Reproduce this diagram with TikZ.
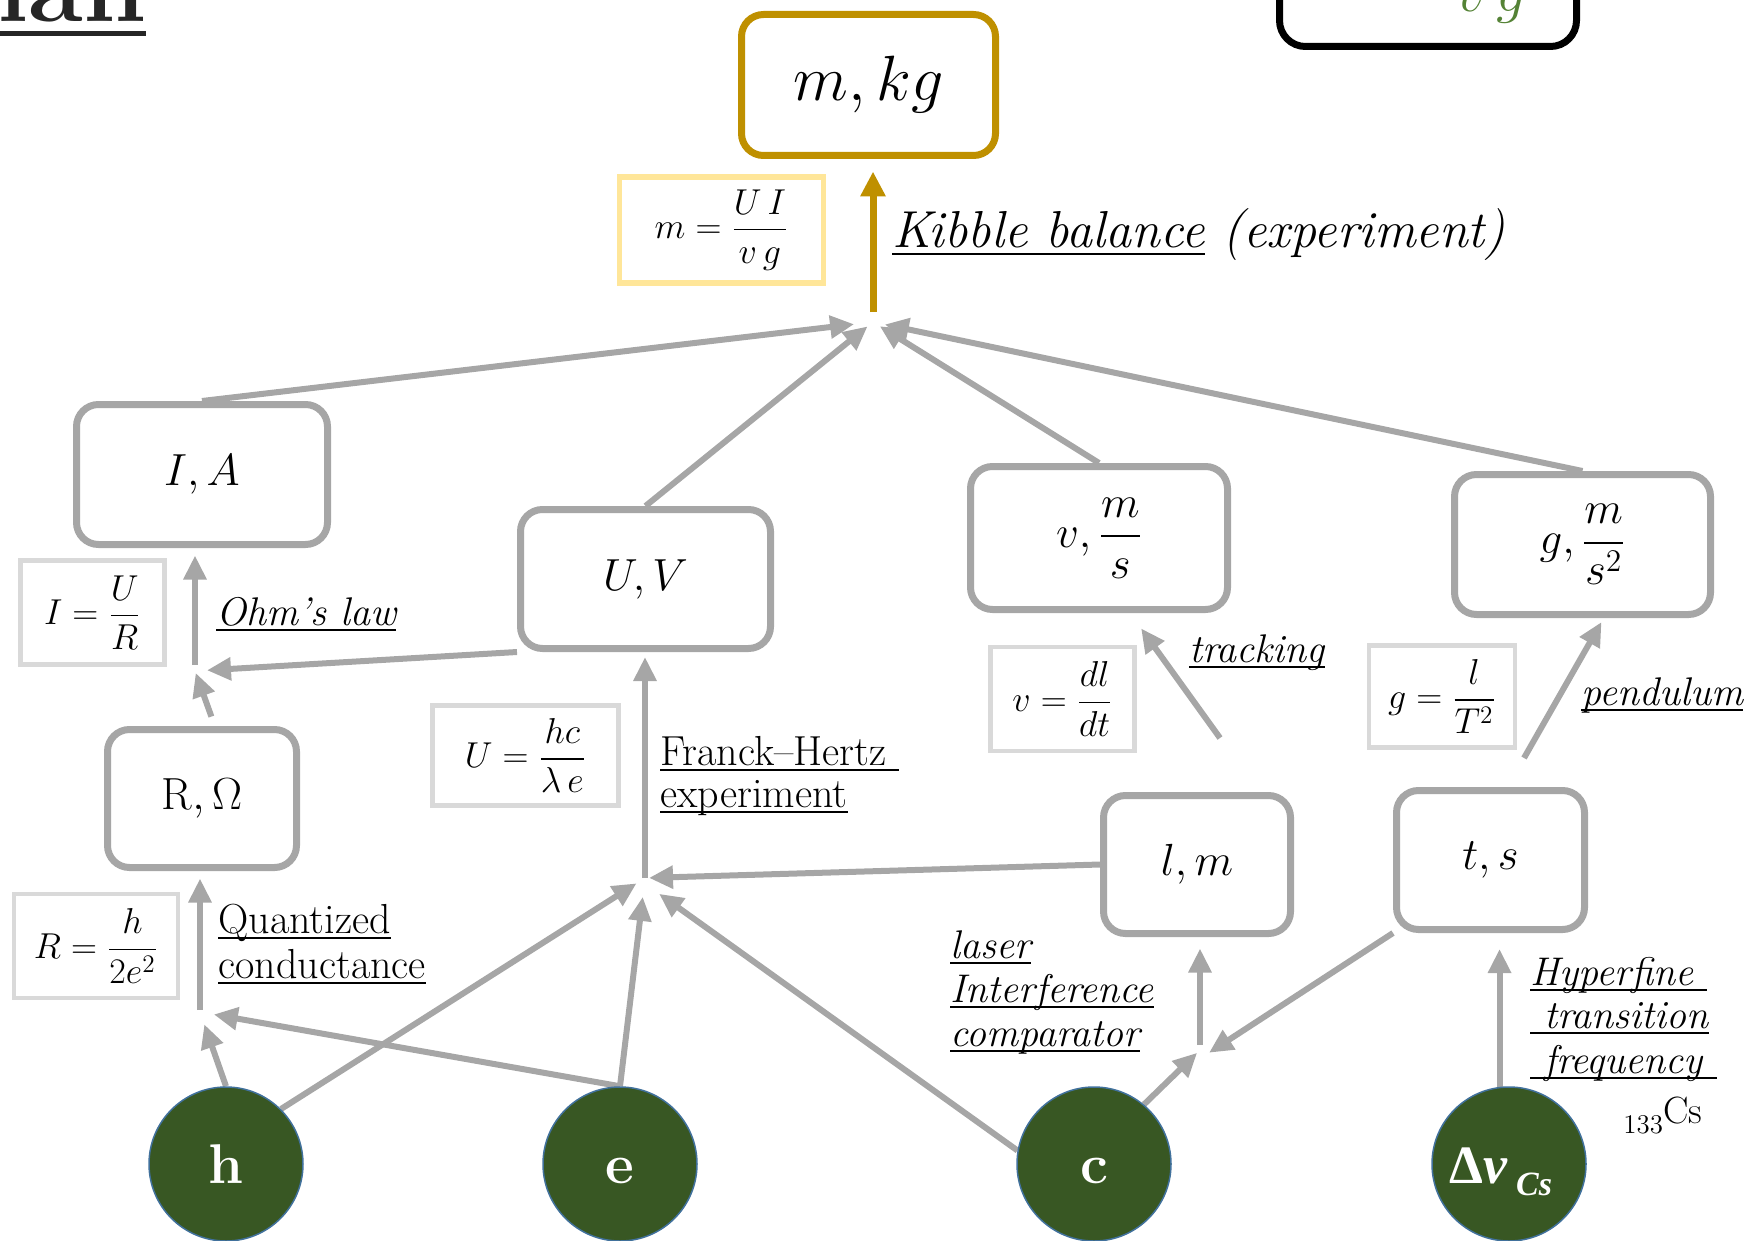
\RequirePackage{fix-cm}
\documentclass[tikz,border=0pt]{standalone}
\usepackage{amsmath}
\usepackage{fontspec}
\newfontfamily\libserif{Liberation Serif}
\usetikzlibrary{arrows.meta,calc}

\definecolor{linegray}{HTML}{A6A6A6}
\definecolor{framegray}{HTML}{D9D9D9}
\definecolor{kgold}{HTML}{BF9000}
\definecolor{palegold}{HTML}{FFE699}
\definecolor{constgreen}{HTML}{385723}
\definecolor{constrim}{HTML}{41719C}
\definecolor{leafgreen}{HTML}{548235}
\definecolor{titleink}{HTML}{262626}

% underline at a fixed depth, crossing descenders
\newsavebox\ulbox
\newcommand\ulu[1]{\sbox\ulbox{#1}\rlap{\rule[-0.14em]{\wd\ulbox}{0.05em}}\usebox\ulbox}

\pgfdeclarelayer{background}
\pgfsetlayers{background,main}

\begin{document}
\begin{tikzpicture}[x=0.5pt,y=-0.5pt,
  qty/.style={draw=linegray, line width=3.5pt, rounded corners=11pt, fill=white,
    inner sep=0pt, font=\fontsize{22.5}{26}\selectfont},
  formula/.style={draw=framegray, line width=2.25pt, fill=white, inner sep=0pt,
    font=\fontsize{18}{21}\selectfont},
  const/.style={circle, fill=constgreen, draw=constrim, line width=0.75pt,
    minimum size=77pt, inner sep=0pt, text=white, text height=19.4pt, text depth=0pt},
  link/.style={draw=linegray, line width=3pt, -{Triangle[length=12pt,width=11pt]}},
  goldlink/.style={draw=kgold, line width=3.5pt, -{Triangle[length=12.5pt,width=12pt]}},
  lbl/.style={anchor=base west, inner sep=0pt, font=\fontsize{20}{23}\selectfont\itshape},
  rlbl/.style={anchor=base west, inner sep=0pt, font=\fontsize{21}{24}\selectfont},
]
\useasboundingbox (0,0) rectangle (1760,1241);
\clip (0,0) rectangle (1760,1241);

% ---- title fragment and upper right frame ----
\node[anchor=base east, inner sep=0pt, text=titleink,
      font=\fontsize{50}{56}\selectfont\bfseries] (ttl) at (146,22) {\ulu{ian}};
\node[draw=black, line width=3.5pt, rounded corners=13pt, minimum width=148.5pt,
      minimum height=73pt, inner sep=0pt] (topbox) at (1428,-26.5) {};
\node[anchor=base west, inner sep=0pt, text=leafgreen,
      font=\fontsize{30}{34}\selectfont] (vgtxt) at (1456,12) {$v\,g$};

% ---- quantities ----
\node[qty, draw=kgold, minimum width=127pt, minimum height=70.5pt,
      font=\fontsize{32}{36}\selectfont] (mkg) at (868.5,85) {$m, kg$};
\node[qty, minimum width=125.5pt, minimum height=70pt] (ia) at (202,474.5) {$I, A$};
\node[qty, minimum width=125pt, minimum height=69.5pt] (uv) at (645.5,579) {$U, V$};
\node[qty, minimum width=128.5pt, minimum height=71.5pt] (vb) at (1099,538) {$v,\dfrac{m}{s}$};
\node[qty, minimum width=128pt, minimum height=70pt] (gb) at (1582.5,544.5) {$g,\dfrac{m}{s^{2}}$};
\node[qty, minimum width=94.5pt, minimum height=69pt] (ro) at (202,798.5) {$\mathrm{R},\Omega$};
\node[qty, minimum width=93.5pt, minimum height=69pt] (lm) at (1197,864.5) {$l, m$};
\node[qty, minimum width=94pt, minimum height=69.5pt] (ts) at (1490.5,860) {$t, s$};

% ---- relations ----
\node[formula, draw=palegold, line width=2.8pt, minimum width=102pt, minimum height=53pt]
      (fm) at (721.5,230) {$m=\dfrac{U\,I}{v\,g}$};
\node[formula, minimum width=72pt, minimum height=52pt] (fI) at (92.5,612.5) {$I=\dfrac{U}{R}$};
\node[formula, minimum width=82pt, minimum height=52pt] (fR) at (96,946) {$R=\dfrac{h}{2e^{2}}$};
\node[formula, minimum width=93pt, minimum height=50pt] (fU) at (525.5,755.5) {$U=\dfrac{hc}{\lambda\,e}$};
\node[formula, minimum width=72pt, minimum height=52pt] (fv) at (1062.5,699) {$v=\dfrac{dl}{dt}$};
\node[formula, minimum width=73pt, minimum height=51pt] (fg) at (1442,696.5) {$g=\dfrac{l}{T^{2}}$};

% ---- defining constants ----
\node[const, font=\fontsize{28}{30}\selectfont\bfseries] (h) at (226,1164) {h};
\node[const, font=\fontsize{28}{30}\selectfont\bfseries] (e) at (620,1164) {e};
\node[const, font=\fontsize{28}{30}\selectfont\bfseries] (c) at (1094,1164) {c};
\node[const] (d) at (1509,1164)
  {\libserif\fontsize{27}{30}\selectfont\bfseries Δ\textit{ν}\kern4pt\raisebox{-6pt}{\fontsize{17}{20}\selectfont\itshape Cs}\kern8pt};

% ---- method labels ----
\node[lbl, font=\fontsize{26}{30}\selectfont\itshape] (kib) at (892,248) {\ulu{Kibble balance} (experiment)};
\node[lbl] (ohm) at (216,625) {\ulu{Ohm’s law}};
\node[rlbl] (fh1) at (660,765) {\ulu{Franck–Hertz\ }};
\node[rlbl] (fh2) at (660,807) {\ulu{experiment}};
\node[rlbl] (qc1) at (218,933) {\ulu{Quantized}};
\node[rlbl] (qc2) at (218,978) {\ulu{conductance}};
\node[lbl] (trkl) at (1189,662) {\ulu{tracking}};
\node[lbl] (pend) at (1581,705) {\ulu{pendulum}};
\node[lbl] (las1) at (950,958) {\ulu{laser}};
\node[lbl] (las2) at (950,1002) {\ulu{Interference}};
\node[lbl] (las3) at (950,1046) {\ulu{comparator}};
\node[lbl] (hf1) at (1530,985) {\ulu{Hyperfine\ }};
\node[lbl] (hf2) at (1530,1028) {\ulu{\ transition}};
\node[lbl] (hf3) at (1530,1073) {\ulu{\ frequency\ }};
\node[anchor=base west, inner sep=0pt, font=\fontsize{19}{23}\selectfont] (cs) at (1623,1123)
  {\raisebox{-5pt}{\fontsize{13.5}{15}\selectfont 133}Cs};

% ---- junctions and free tails ----
\coordinate (jK) at (873,322);
\coordinate (jO) at (195,671);
\coordinate (jQ) at (200,1012);
\coordinate (jF) at (645,878);
\coordinate (jL) at (1200,1050);
\coordinate (trkTail) at (1220,738);
\coordinate (penTail) at (1524,758);

\begin{pgfonlayer}{background}
% Kibble balance
\draw[link, shorten >=9.5pt] (ia.north) -- (jK);
\draw[link, shorten >=3.5pt] (uv.north) -- (jK);
\draw[link, shorten >=4pt] (vb.north) -- (jK);
\draw[link, shorten >=6pt] (gb.north) -- (jK);
\draw[goldlink, shorten <=5pt, shorten >=6.25pt] (jK) -- (jK |- mkg.south);
% Ohm's law
\draw[link, shorten <=3pt, shorten >=3.75pt] (jO) -- (jO |- ia.south);
\draw[link, shorten >=6pt] (uv.south west) -- (jO);
\draw[link, shorten <=5pt, shorten >=1pt] (ro.80) -- (jO);
% quantized conductance
\draw[link, shorten <=1pt, shorten >=3.75pt] (jQ) -- (jQ |- ro.south);
\draw[link, shorten >=6.5pt] (h.north) -- (jQ);
\draw[link, shorten >=7pt] (e.north) -- (jQ);
% Franck-Hertz
\draw[link, shorten >=2.5pt] (jF) -- (jF |- uv.south);
\draw[link, shorten >=2pt] (lm.west) -- (jF);
\draw[link, shorten >=5pt] (h.45) -- (jF);
\draw[link, shorten >=9.5pt] (e.north) -- (jF);
\draw[link, shorten >=5pt] (c.170) -- ($(jF)+(6,10)$);
% laser interference comparator
\draw[link, shorten <=2.5pt, shorten >=5.75pt] (jL) -- (jL |- lm.south);
\draw[link, shorten >=2pt] (c.50) -- (jL);
\draw[link, shorten >=3pt] (ts.south west) -- ($(jL)+(4,6)$);
% tracking, pendulum, hyperfine transition
\draw[link, shorten >=9.5pt] (trkTail) -- ($(vb.south)+(31,0)$);
\draw[link] (penTail) -- ($(gb.south)+(19,4)$);
\draw[link, shorten >=8pt] (d.97) -- (d.97 |- ts.south);
\end{pgfonlayer}
\end{tikzpicture}
\end{document}
